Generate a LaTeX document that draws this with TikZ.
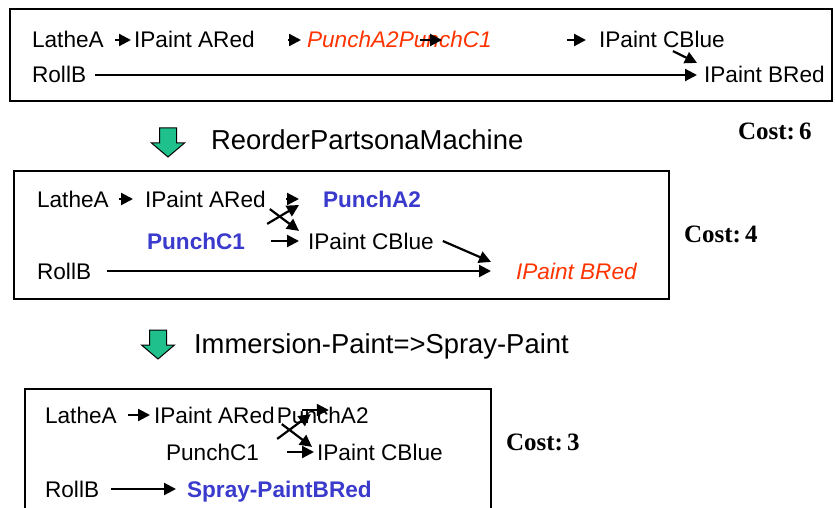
\documentclass[tikz,border=0pt]{standalone}
\usepackage{fontspec}
\setmainfont{Liberation Sans}
\newfontfamily\costfont{Liberation Serif}
\usetikzlibrary{arrows.meta,positioning}
\definecolor{redtext}{RGB}{255,51,0}
\definecolor{bluetext}{RGB}{58,58,204}
\definecolor{arrowgreen}{RGB}{32,192,140}
\tikzset{
item/.style={inner sep=0pt,anchor=base west,text height=8pt,text depth=0pt,font=\fontsize{11.3}{13}\selectfont},
redit/.style={text=redtext,font=\fontsize{11.3}{13}\selectfont\itshape},
bluebf/.style={text=bluetext,font=\fontsize{11.3}{13}\selectfont\bfseries},
steplabel/.style={inner sep=0pt,anchor=base west,font=\fontsize{13.7}{16}\selectfont},
cost/.style={inner sep=0pt,anchor=base west,font=\fontsize{12.5}{14}\selectfont\costfont\bfseries},
frame/.style={-,draw,line width=1pt},
downarrow/.style={-,draw=black,line width=0.5pt,fill=arrowgreen}
}
\begin{document}
\begin{tikzpicture}[->,>={Triangle[length=6pt,width=6pt]},line width=1.1pt,x=0.5pt,y=-0.5pt]
\clip (0,0) rectangle (835,508);
% boxes
\draw[frame] (10,9) rectangle (832,101);
\draw[frame] (14,171) rectangle (669,299);
\draw[frame] (25,389) rectangle (491,520);
\foreach \x/\y in {168/128,158/330}
\draw[downarrow] (\x-8.5,\y) -- (\x+8.5,\y) -- (\x+8.5,\y+15) -- (\x+16.5,\y+15) -- (\x,\y+29) -- (\x-16.5,\y+15) -- (\x-8.5,\y+15) -- cycle;
\node[steplabel] (reorder) at (210,149) {ReorderPartsonaMachine};
\node[steplabel] (immersion) at (193,353) {Immersion-Paint=>Spray-Paint};
\node[cost] (cost1) at (737,140) {Cost:\,6};
\node[cost] (cost2) at (683,242) {Cost:\,4};
\node[cost] (cost3) at (505,450) {Cost:\,3};
% first plan
\node[item] (la1) at (31,48) {LatheA};
\node[item] (ipa1) at (133,48) {IPaint ARed};
\node[item,redit] (pac1) at (306,48) {PunchA2PunchC1};
\node[item] (ipc1) at (598,48) {IPaint CBlue};
\node[item] (rb1) at (31,83) {RollB};
\node[item] (ipb1) at (703,83) {IPaint BRed};
\path (la1) edge[shorten <=5pt,shorten >=1pt] (ipa1)
(ipa1) edge[shorten <=16pt,shorten >=2.5pt] (pac1)
(pac1) edge[shorten <=37pt,shorten >=6pt] (ipc1)
(rb1) edge[shorten <=4pt,shorten >=3pt] (ipb1);
\draw ([shift={(114,0)}]pac1.west) -- ([shift={(136,0)}]pac1.west);
\draw ([shift={(11,2)}]ipc1.south) -- ([shift={(-6,-3)}]ipb1.north west);
% second plan
\node[item] (la2) at (36,207) {LatheA};
\node[item] (ipa2) at (144,207) {IPaint ARed};
\node[item,bluebf] (pa2) at (322,207) {PunchA2};
\node[item,bluebf] (pc2) at (146,249) {PunchC1};
\node[item] (ipc2) at (307,249) {IPaint CBlue};
\node[item] (rb2) at (36,279) {RollB};
\node[item,redit] (ipb2) at (515,279) {IPaint BRed};
\path (la2) edge[shorten <=4.5pt,shorten >=5.5pt] (ipa2)
(ipa2) edge[shorten <=9.5pt,shorten >=11.5pt] (pa2)
(pc2) edge[shorten <=12.5pt,shorten >=4pt] (ipc2)
(rb2) edge[shorten <=7.5pt,shorten >=12pt] (ipb2);
\draw ([shift={(21,-8)}]pc2.north east) -- ([shift={(-23,6)}]pa2.west);
\draw ([shift={(3,1)}]ipa2.south east) -- ([shift={(-8,-1)}]ipc2.north west);
\draw ([shift={(8,0)}]ipc2.east) -- ([shift={(-24,0)}]ipb2.north west);
% third plan
\node[item] (la3) at (44,423) {LatheA};
\node[item] (ipa3) at (153,423) {IPaint ARed};
\node[item] (pa3) at (ipa3.base east) {PunchA2};
\node[item] (pc3) at (165,460) {PunchC1};
\node[item] (ipc3) at (316,460) {IPaint CBlue};
\node[item] (rb3) at (44,497) {RollB};
\node[item,bluebf] (spb3) at (186,497) {Spray-PaintBRed};
\path (la3) edge[shorten <=5pt,shorten >=1.5pt] (ipa3)
(pc3) edge[shorten <=13.5pt,shorten >=1pt] (ipc3)
(rb3) edge[shorten <=5.5pt,shorten >=5pt] (spb3);
\draw ([shift={(26,-5)}]pa3.west) -- ([shift={(53,-5)}]pa3.west);
\draw ([shift={(17,-4)}]pc3.north east) -- ([shift={(35,-10)}]pa3.south west);
\draw ([shift={(6,0)}]ipa3.south east) -- ([shift={(-4,4)}]ipc3.north west);
\end{tikzpicture}
\end{document}
